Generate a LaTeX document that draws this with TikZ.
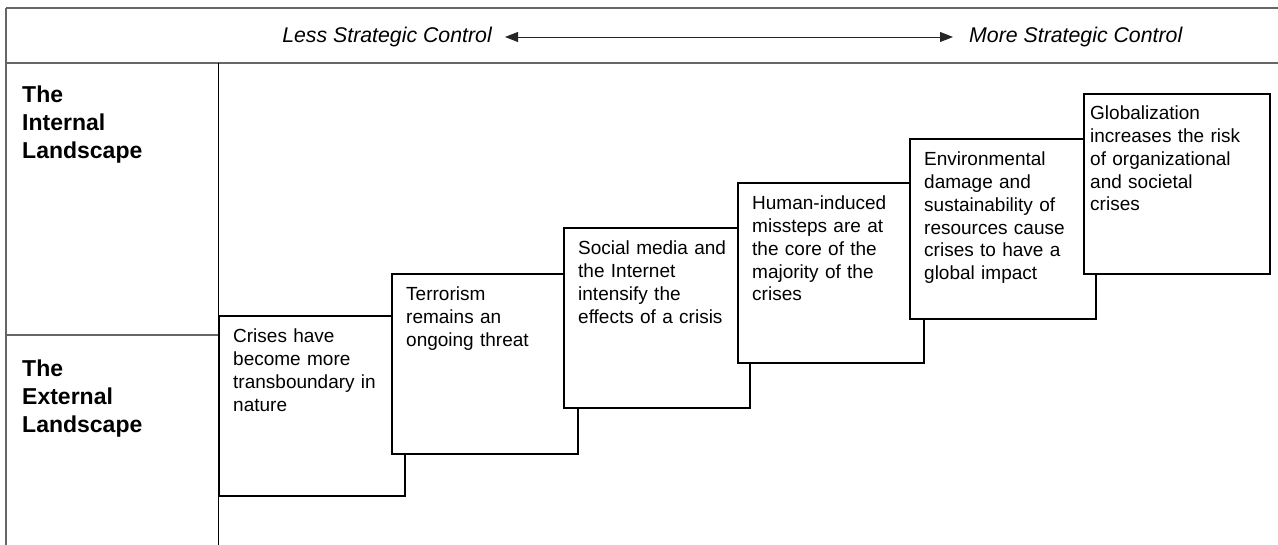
\documentclass[tikz,border=0pt]{standalone}
\usepackage{fontspec}
\setmainfont{Liberation Sans}
\usetikzlibrary{arrows.meta}
\begin{document}
\begin{tikzpicture}[x=1pt,y=-1pt,
  frameline/.style={draw=black!60, line width=1.3pt},
  divider/.style={draw=black, line width=0.9pt},
  card/.style={draw=black, line width=1.8pt, fill=white, minimum width=186pt,
    minimum height=180pt, anchor=north west, inner sep=0pt},
  cardtext/.style={anchor=base west, text width=172pt, align=left, inner sep=0pt,
    font=\fontsize{19}{22.7}\selectfont},
  rowlabel/.style={anchor=base west, text width=190pt, align=left, inner sep=0pt,
    font=\bfseries\fontsize{23}{28}\selectfont},
  axislabel/.style={inner sep=0pt, font=\itshape\fontsize{21.3}{25}\selectfont},
  axisarrow/.style={draw=black!85, line width=0.9pt,
    {Triangle[length=13pt,width=10pt]}-{Triangle[length=13pt,width=10pt]}}]
\useasboundingbox (0,0) rectangle (1278,545);

% frame of the table
\coordinate (tl) at (6,8);
\coordinate (tr) at (1278,8);
\coordinate (hl) at (6,63);
\coordinate (hr) at (1278,63);
\coordinate (bl) at (6,545);
\coordinate (ml) at (6,335);
\coordinate (mr) at (218,335);
\coordinate (dt) at (218,63);
\coordinate (db) at (218,545);
\draw[frameline] (tl) -- (tr);
\draw[frameline] (hl) -- (hr);
\draw[frameline] (tl) -- (bl);
\draw[frameline] (ml) -- (mr);
\draw[divider] (dt) -- (db);

% header axis
\node[axislabel, anchor=east] (less) at (492,37) {Less Strategic Control};
\node[axislabel, anchor=west] (more) at (969,37) {More Strategic Control};
\draw[axisarrow, shorten <=13pt, shorten >=16pt] (less.east) -- (more.west);

% row labels
\node[rowlabel] (internal) at (22,103) {The\\Internal\\Landscape};
\node[rowlabel] (external) at (22,377) {The\\External\\Landscape};

% staircase of cards
\node[card] (c1) at (218,315) {};
\node[cardtext] (t1) at ([xshift=15pt,yshift=-28pt]c1.north west)
  {Crises have\\become more\\transboundary in\\nature};
\node[card] (c2) at (391,273) {};
\node[cardtext] (t2) at ([xshift=15pt,yshift=-28pt]c2.north west)
  {Terrorism\\remains an\\ongoing threat};
\node[card] (c3) at (563,227) {};
\node[cardtext] (t3) at ([xshift=15pt,yshift=-28pt]c3.north west)
  {Social media and\\the Internet\\intensify the\\effects of a crisis};
\node[card] (c4) at (737,182) {};
\node[cardtext] (t4) at ([xshift=15pt,yshift=-28pt]c4.north west)
  {Human-induced\\missteps are at\\the core of the\\majority of the\\crises};
\node[card] (c5) at (909,138) {};
\node[cardtext] (t5) at ([xshift=15pt,yshift=-28pt]c5.north west)
  {Environmental\\damage and\\sustainability of\\resources cause\\crises to have a\\global impact};
\node[card] (c6) at (1083,93) {};
\node[cardtext] (t6) at ([xshift=7pt,yshift=-27pt]c6.north west)
  {Globalization\\increases the risk\\of organizational\\and societal\\crises};
\end{tikzpicture}
\end{document}
